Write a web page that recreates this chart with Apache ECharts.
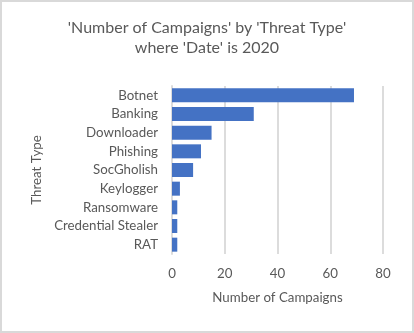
<!DOCTYPE html>
<html>
<head>
<meta charset="utf-8">
<script src="https://cdn.jsdelivr.net/npm/echarts@6/dist/echarts.min.js"></script>
<style>
  html, body { margin: 0; padding: 0; background: #fff; }
  #chart { width: 414px; height: 333px; box-sizing: border-box; border: 2px solid #d9d9d9; }
</style>
</head>
<body>
<div id="chart"></div>
<script>
// Campaign counts per threat type for 2020
const threatTypes = ['Botnet', 'Banking', 'Downloader', 'Phishing', 'SocGholish', 'Keylogger', 'Ransomware', 'Credential Stealer', 'RAT'];
const campaignCounts = [69, 31, 15, 11, 8, 3, 2, 2, 2];
const xTicks = [0, 20, 40, 60, 80];

const FONT = 'Lato';
const TEXT = '#595959';
const GRID = '#dcdcdc';

const chart = echarts.init(document.getElementById('chart'), null, { renderer: 'canvas' });
chart.setOption({
  animation: false,
  textStyle: { fontFamily: FONT, color: TEXT },
  title: {
    text: "'Number of Campaigns' by 'Threat Type'\nwhere 'Date' is 2020",
    left: 'center',
    top: 11,
    textStyle: { fontFamily: FONT, fontSize: 16, fontWeight: 'normal', color: TEXT, lineHeight: 20 }
  },
  grid: { left: 170, right: 29, top: 84, bottom: 77, containLabel: false },
  xAxis: {
    type: 'value',
    min: xTicks[0],
    max: xTicks[xTicks.length - 1],
    interval: 20,
    name: 'Number of Campaigns',
    nameLocation: 'middle',
    nameGap: 37,
    nameTextStyle: { fontFamily: FONT, fontSize: 13.3, color: TEXT },
    axisLine: { show: false },
    axisTick: { show: false },
    axisLabel: { fontFamily: FONT, fontSize: 13.3, color: TEXT, margin: 13 },
    splitLine: { show: true, lineStyle: { color: GRID, width: 2 } }
  },
  yAxis: {
    type: 'category',
    inverse: true,
    data: threatTypes,
    name: 'Threat Type',
    nameLocation: 'middle',
    nameRotate: 90,
    nameGap: 126,
    nameTextStyle: { fontFamily: FONT, fontSize: 13.3, color: TEXT },
    axisLine: { show: true, lineStyle: { color: GRID, width: 2 } },
    axisTick: { show: false },
    axisLabel: { fontFamily: FONT, fontSize: 13.3, color: TEXT, margin: 14 }
  },
  series: [{
    type: 'bar',
    data: campaignCounts,
    barCategoryGap: '25%',
    itemStyle: { color: '#4472c4' }
  }]
});
</script>
</body>
</html>
